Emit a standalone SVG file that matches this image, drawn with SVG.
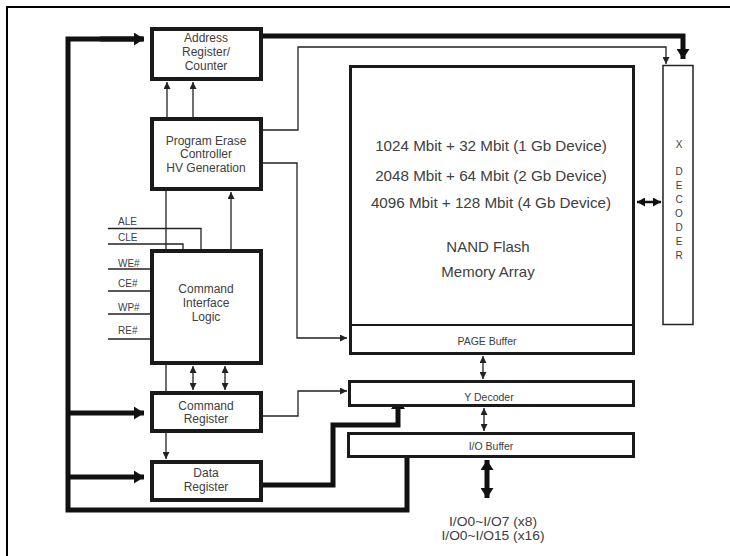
<svg xmlns="http://www.w3.org/2000/svg" width="730" height="556" viewBox="0 0 730 556">
<style>
.t{font-family:"Liberation Sans",Arial,sans-serif;fill:#404040;text-anchor:middle}
.b12{font-size:12px}
.s10{font-size:10.5px}
.lab{font-size:10px;text-anchor:start}
.box{fill:#fff;stroke:#1a1a1a;stroke-width:4}
.mid{fill:#fff;stroke:#1a1a1a;stroke-width:3}
.thin{fill:none;stroke:#222;stroke-width:1.3}
.bus{fill:none;stroke:#111;stroke-width:5}
</style>
<defs>
<marker id="a" markerUnits="userSpaceOnUse" markerWidth="8" markerHeight="7" refX="7" refY="3.5" orient="auto-start-reverse"><path d="M0,0 L7,3.5 L0,7 z" fill="#222"/></marker>
<marker id="A" markerUnits="userSpaceOnUse" markerWidth="12" markerHeight="13" refX="10" refY="6.5" orient="auto-start-reverse"><path d="M0,0 L10,6.5 L0,13 z" fill="#111"/></marker>
<marker id="M" markerUnits="userSpaceOnUse" markerWidth="9" markerHeight="9" refX="8" refY="4.5" orient="auto-start-reverse"><path d="M0,0 L8,4.5 L0,9 z" fill="#111"/></marker>
</defs>
<rect width="730" height="556" fill="#fff"/>
<path d="M7,556 V7 H730" fill="none" stroke="#000" stroke-width="2"/>

<g id="connectors">
<path class="bus" d="M143,39 H68 V510 H407 V458"/>
<path class="bus" d="M68,413 H144" marker-end="url(#A)"/>
<path class="bus" d="M68,477 H144" marker-end="url(#A)"/>
<path class="bus" d="M100,39 H144" marker-end="url(#A)"/>
<path class="bus" d="M263,36 H683 V59" marker-end="url(#A)"/>
<path class="thin" d="M263,130 H298 V47 H666 V64" marker-end="url(#a)"/>
<path class="thin" d="M263,163 H297 V338 H347" marker-end="url(#a)"/>
<path class="thin" d="M167,117 V82" marker-end="url(#a)"/>
<path class="thin" d="M193,117 V82" marker-end="url(#a)"/>
<path class="thin" d="M166,249 V191"/>
<path class="thin" d="M231,249 V192" marker-end="url(#a)"/>
<path class="thin" d="M108,228.5 H201 V249"/>
<path class="thin" d="M108,244 H183 V249"/>
<path class="thin" d="M108,269 H150"/>
<path class="thin" d="M108,291 H150"/>
<path class="thin" d="M108,314 H150"/>
<path class="thin" d="M108,339 H150"/>
<path class="thin" d="M166,365 V391"/>
<path class="thin" d="M193,366 V390" marker-start="url(#a)" marker-end="url(#a)"/>
<path class="thin" d="M225,366 V390" marker-start="url(#a)" marker-end="url(#a)"/>
<path class="thin" d="M166,433 V459" marker-end="url(#a)"/>
<path class="thin" d="M263,416 H298 V391 H347" marker-end="url(#a)"/>
<path class="bus" d="M263,485 H333 V425 H398 V402" stroke-width="4.5"/>
<path d="M391,409 L398,399 L405,409 z" fill="#111"/>
<path class="thin" d="M483,356 V379" marker-start="url(#a)" marker-end="url(#a)"/>
<path class="thin" d="M484,408 V431" marker-start="url(#a)" marker-end="url(#a)"/>
<path class="bus" d="M487,460 V498" stroke-width="5" marker-start="url(#A)" marker-end="url(#A)"/>
<path d="M637,202 H661" fill="none" stroke="#111" stroke-width="2.5" marker-start="url(#M)" marker-end="url(#M)"/>
</g>

<g id="labels">
<text class="t lab" x="118" y="225">ALE</text>
<text class="t lab" x="118" y="241">CLE</text>
<text class="t lab" x="118" y="267">WE#</text>
<text class="t lab" x="118" y="287">CE#</text>
<text class="t lab" x="118" y="311">WP#</text>
<text class="t lab" x="118" y="334">RE#</text>
</g>

<g id="address-register">
<rect class="box" x="152" y="29" width="109" height="50"/>
<text class="t b12" x="206" y="42">Address</text>
<text class="t b12" x="206" y="56">Register/</text>
<text class="t b12" x="206" y="70">Counter</text>
</g>

<g id="program-erase">
<rect class="box" x="152" y="119" width="109" height="70"/>
<text class="t b12" x="206" y="145">Program Erase</text>
<text class="t b12" x="206" y="158">Controller</text>
<text class="t b12" x="206" y="172">HV Generation</text>
</g>

<g id="command-interface">
<rect class="box" x="152" y="251" width="109" height="112"/>
<text class="t b12" x="206" y="293">Command</text>
<text class="t b12" x="206" y="307">Interface</text>
<text class="t b12" x="206" y="321">Logic</text>
</g>

<g id="command-register">
<rect class="box" x="152" y="393" width="109" height="38"/>
<text class="t b12" x="206" y="410">Command</text>
<text class="t b12" x="206" y="423">Register</text>
</g>

<g id="data-register">
<rect class="box" x="152" y="462" width="109" height="38"/>
<text class="t b12" x="206" y="477">Data</text>
<text class="t b12" x="206" y="491">Register</text>
</g>

<g id="memory-array">
<rect class="mid" x="350.5" y="66.5" width="283" height="287"/>
<line x1="350" y1="325" x2="634" y2="325" stroke="#1a1a1a" stroke-width="1.8"/>
<text class="t" x="491" y="151" font-size="15.2">1024 Mbit + 32 Mbit (1 Gb Device)</text>
<text class="t" x="491" y="181" font-size="15.2">2048 Mbit + 64 Mbit (2 Gb Device)</text>
<text class="t" x="491" y="208" font-size="15.2">4096 Mbit + 128 Mbit (4 Gb Device)</text>
<text class="t" x="488" y="252" font-size="15">NAND Flash</text>
<text class="t" x="488" y="277" font-size="15">Memory Array</text>
<text class="t s10" x="487" y="344.5">PAGE Buffer</text>
</g>

<g id="x-decoder">
<rect x="663" y="65.5" width="30" height="259" fill="#fff" stroke="#222" stroke-width="1.5"/>
<text class="t" font-size="10" x="679" y="148">X</text>
<text class="t" font-size="10" x="679" y="175">D</text>
<text class="t" font-size="10" x="679" y="189">E</text>
<text class="t" font-size="10" x="679" y="203">C</text>
<text class="t" font-size="10" x="679" y="217">O</text>
<text class="t" font-size="10" x="679" y="231">D</text>
<text class="t" font-size="10" x="679" y="245">E</text>
<text class="t" font-size="10" x="679" y="259">R</text>
</g>

<g id="y-decoder">
<rect class="mid" x="349.5" y="381.5" width="284" height="24"/>
<text class="t s10" x="489" y="400.5">Y Decoder</text>
</g>

<g id="io-buffer">
<rect class="mid" x="348.5" y="433.5" width="285" height="23"/>
<text class="t s10" x="491" y="449.5">I/O Buffer</text>
</g>

<g id="io-pins">
<text class="t" font-size="12" x="493" y="526" textLength="88" lengthAdjust="spacingAndGlyphs">I/O0~I/O7 (x8)</text>
<text class="t" font-size="12" x="493" y="540" textLength="103" lengthAdjust="spacingAndGlyphs">I/O0~I/O15 (x16)</text>
</g>
</svg>
